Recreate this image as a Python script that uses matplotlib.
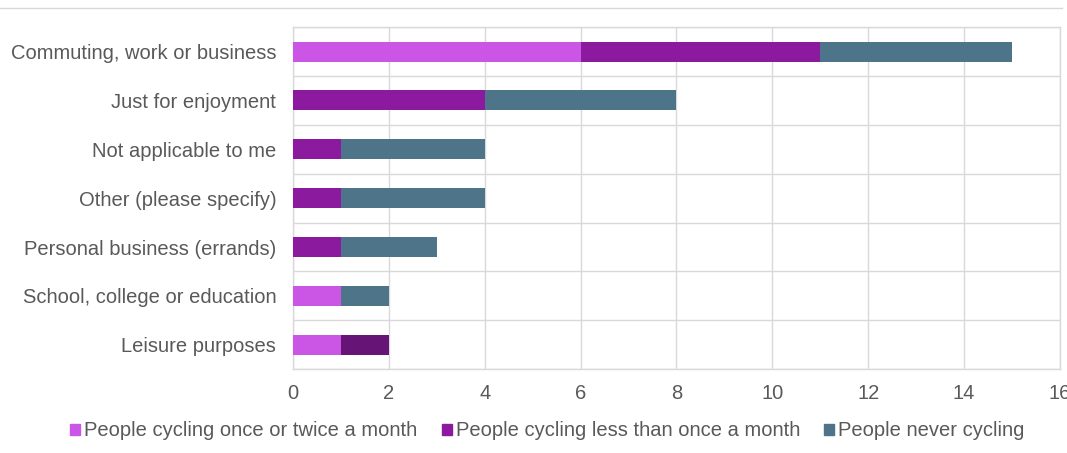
import numpy as np
import matplotlib
matplotlib.use('Agg')
import matplotlib.pyplot as plt
from matplotlib.lines import Line2D
from matplotlib.patches import Patch

# datos (de arriba hacia abajo)
categorias = ['Commuting, work or business', 'Just for enjoyment', 'Not applicable to me',
              'Other (please specify)', 'Personal business (errands)',
              'School, college or education', 'Leisure purposes']
una_dos_mes = [6, 0, 0, 0, 0, 1, 1]
menos_una_mes = [5, 4, 1, 1, 1, 0, 1]
nunca = [4, 4, 3, 3, 2, 1, 0]
series = ['People cycling once or twice a month', 'People cycling less than once a month',
          'People never cycling']

c_rosa = '#CB55E4'
c_morado = '#8B1A9E'
c_morado_osc = '#661475'
c_azul = '#4E7489'
gris_txt = '#595959'
gris_lin = '#D9D9D9'

plt.rcParams['font.family'] = ['Liberation Sans', 'DejaVu Sans']

fig = plt.figure(figsize=(10.67, 4.53), dpi=100)
ax = fig.add_axes([0.2746, 0.185, 0.9934 - 0.2746, 0.755])

y = np.arange(len(categorias))
alto = 0.41
a = np.array(una_dos_mes)
b = np.array(menos_una_mes)
c = np.array(nunca)

ax.barh(y, a, height=alto, color=c_rosa, zorder=3)
# el ultimo segmento morado de "Leisure purposes" aparece mas oscuro
colores_b = [c_morado] * (len(categorias) - 1) + [c_morado_osc]
ax.barh(y, b, left=a, height=alto, color=colores_b, zorder=3)
ax.barh(y, c, left=a + b, height=alto, color=c_azul, zorder=3)

ax.set_ylim(len(categorias) - 0.5, -0.5)
ax.set_xlim(0, 16)
ax.set_xticks(range(0, 17, 2))
ax.set_yticks(y)
ax.set_yticklabels(categorias)
ax.set_yticks(np.arange(-0.5, len(categorias), 1), minor=True)
ax.tick_params(axis='y', which='both', length=0, labelsize=14.5, colors=gris_txt, pad=12)
ax.tick_params(axis='x', length=0, labelsize=14.5, colors=gris_txt, pad=11)
ax.grid(True, axis='x', color=gris_lin, linewidth=1, zorder=0)
ax.grid(True, axis='y', which='minor', color=gris_lin, linewidth=1, zorder=0)
for s in ax.spines.values():
    s.set_color(gris_lin)
    s.set_linewidth(1)

# linea superior
fig.add_artist(Line2D([0.0, 0.995], [1 - 8 / 453, 1 - 8 / 453], color=gris_lin, linewidth=1))

manijas = [Patch(color=c_rosa), Patch(color=c_morado), Patch(color=c_azul)]
ax.legend(manijas, series, loc='center', bbox_to_anchor=(0.5 * (75 + 1020) / 1067, 1 - 431 / 453),
          bbox_transform=fig.transFigure, ncol=3, frameon=False, fontsize=14.5,
          labelcolor=gris_txt, handlelength=0.5, handleheight=0.5, handletextpad=0.2,
          columnspacing=1.2)

plt.savefig('out.png', dpi=100)
